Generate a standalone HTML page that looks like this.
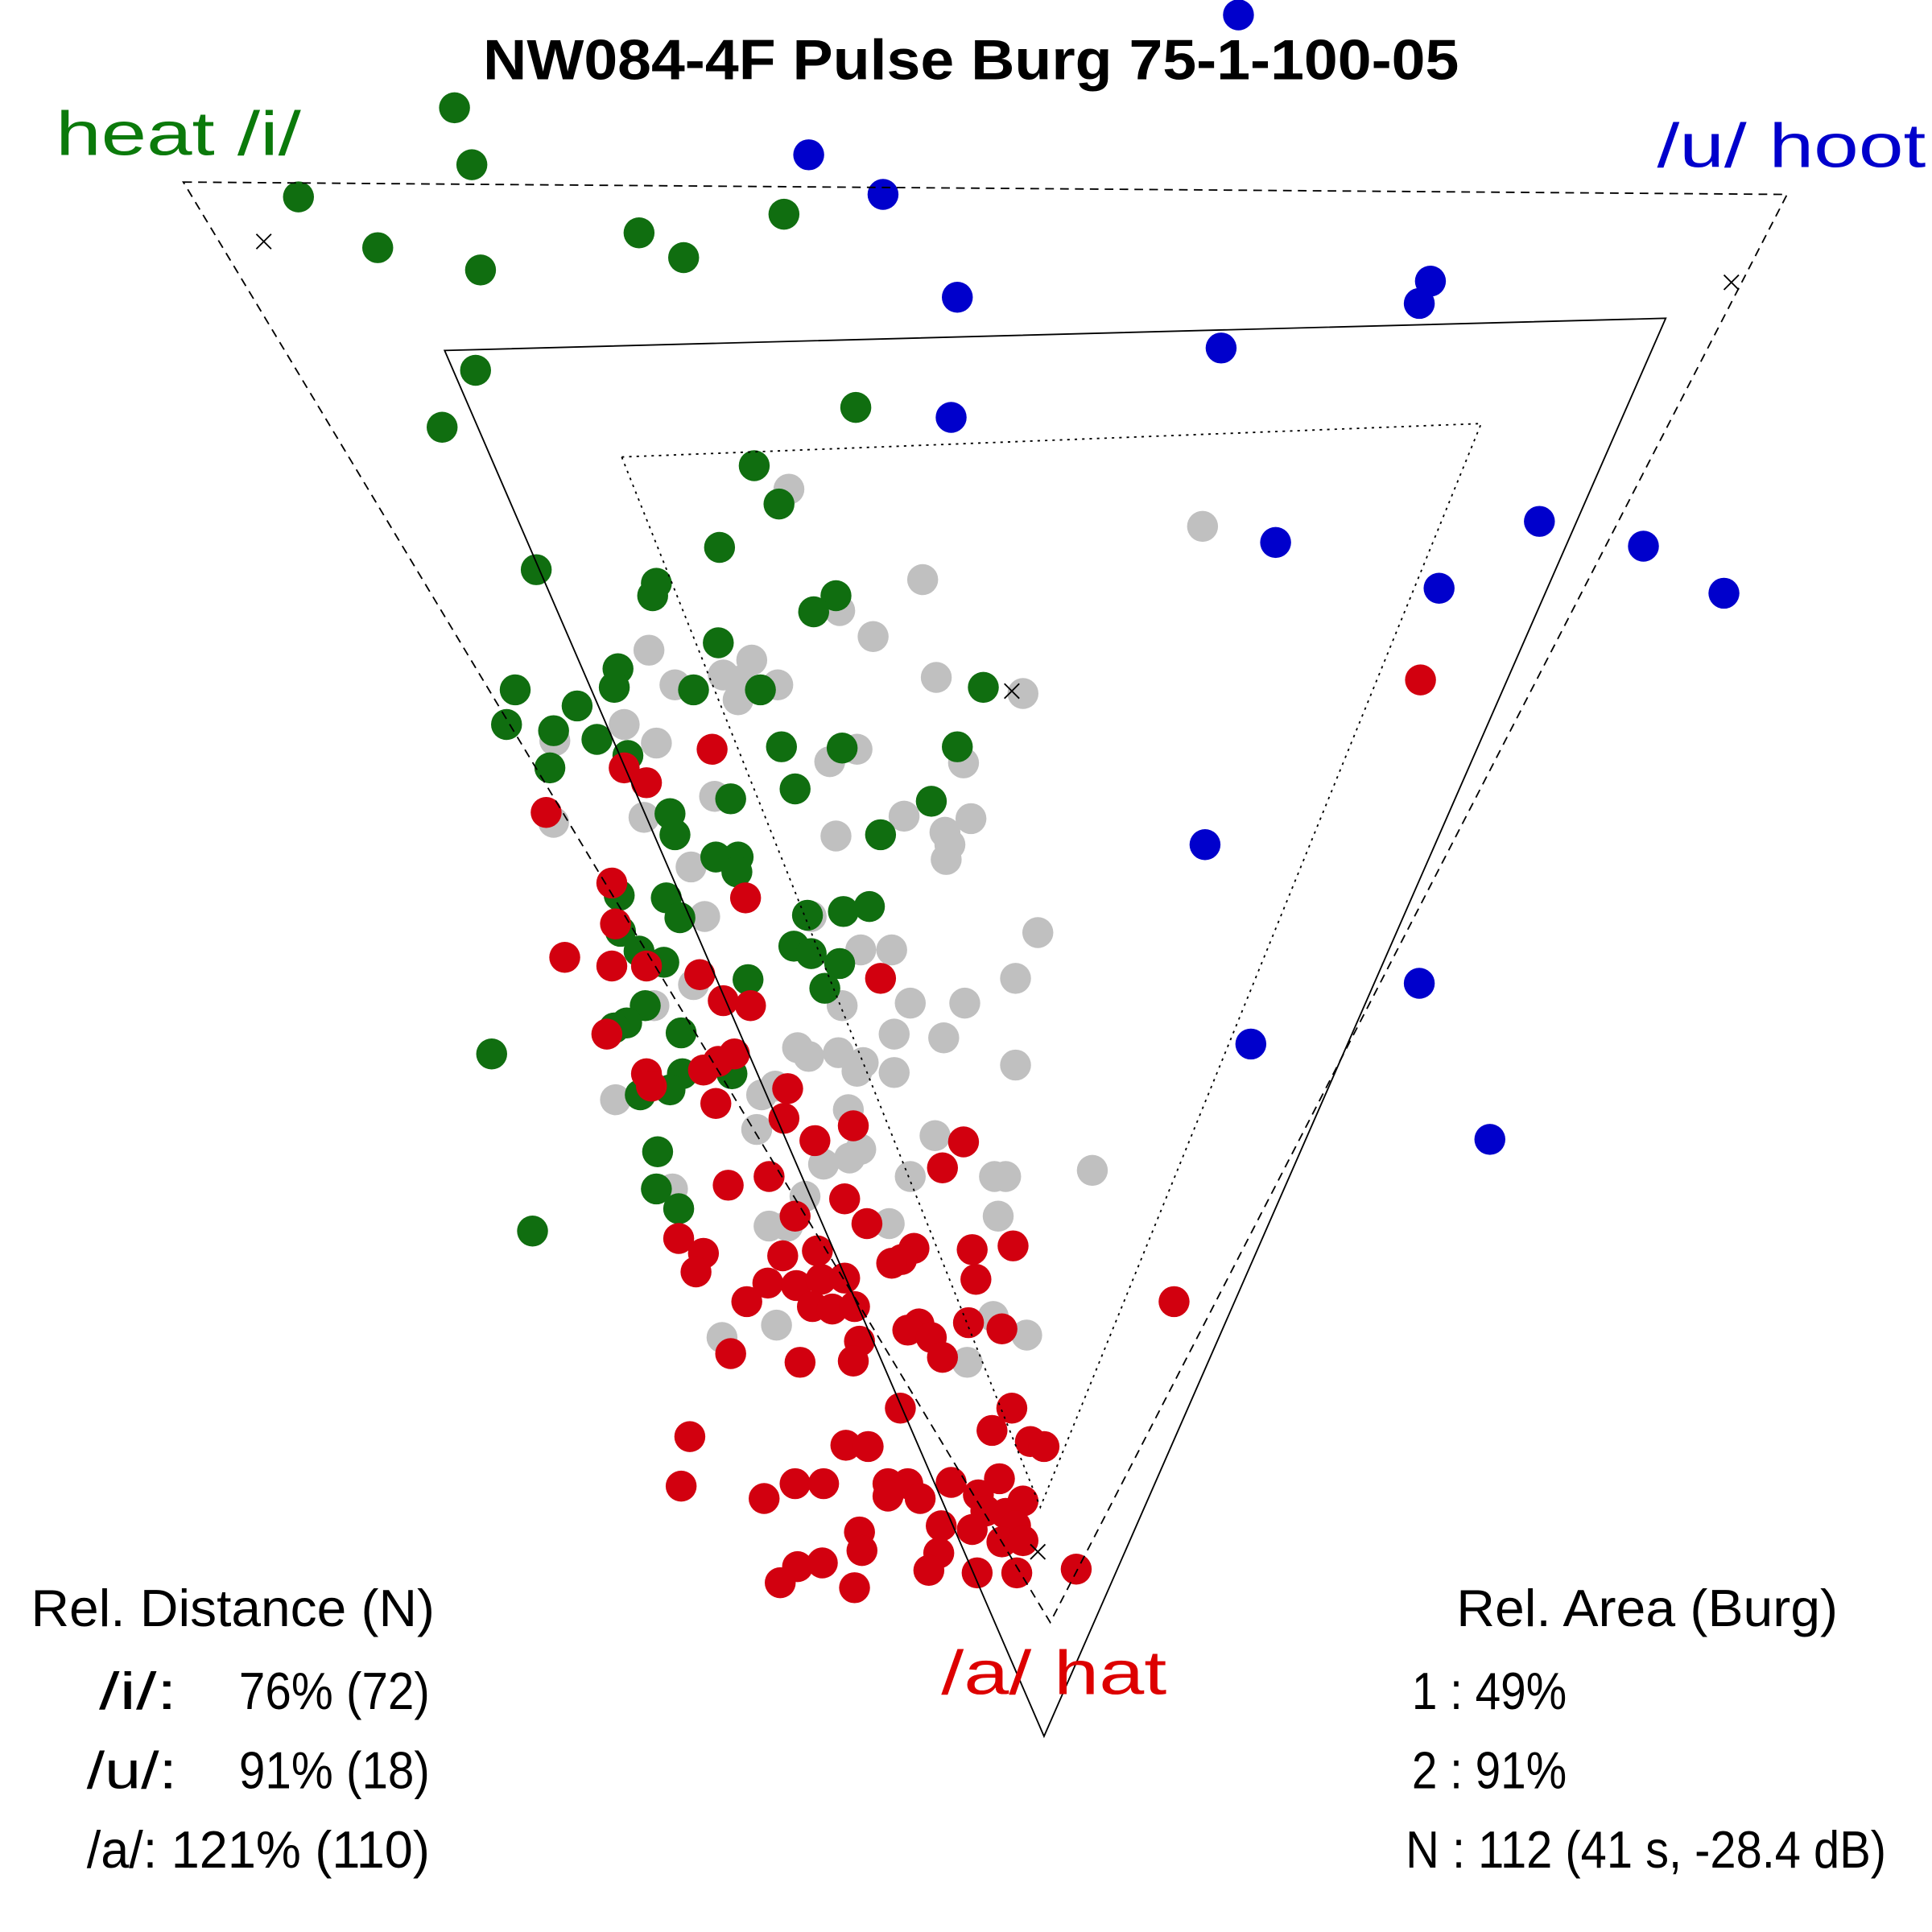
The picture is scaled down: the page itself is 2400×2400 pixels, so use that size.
<!DOCTYPE html>
<html><head><meta charset="utf-8"><style>
html,body{margin:0;padding:0;background:#fff;}
svg{display:block;}
text{font-family:"Liberation Sans",sans-serif;}
</style></head><body>
<svg width="2400" height="2400" viewBox="0 0 1560 1560" xmlns="http://www.w3.org/2000/svg">
<rect width="1560" height="1560" fill="#fff"/>
<g fill="#c0c0c0">
<circle cx="637" cy="395" r="12.5"/><circle cx="971" cy="425" r="12.5"/><circle cx="745" cy="468" r="12.5"/><circle cx="678" cy="493" r="12.5"/><circle cx="705" cy="514" r="12.5"/><circle cx="524" cy="525" r="12.5"/><circle cx="607" cy="533" r="12.5"/><circle cx="584" cy="545" r="12.5"/><circle cx="628" cy="553" r="12.5"/><circle cx="545" cy="553" r="12.5"/><circle cx="597" cy="550" r="12.5"/><circle cx="596" cy="565" r="12.5"/><circle cx="756" cy="547" r="12.5"/><circle cx="826" cy="560" r="12.5"/><circle cx="504" cy="585" r="12.5"/><circle cx="448" cy="598" r="12.5"/><circle cx="530" cy="600" r="12.5"/><circle cx="692" cy="605" r="12.5"/><circle cx="670" cy="615" r="12.5"/><circle cx="778" cy="616" r="12.5"/><circle cx="577" cy="643" r="12.5"/><circle cx="520" cy="660" r="12.5"/><circle cx="447" cy="664" r="12.5"/><circle cx="730" cy="659" r="12.5"/><circle cx="784" cy="661" r="12.5"/><circle cx="763" cy="672" r="12.5"/><circle cx="675" cy="675" r="12.5"/><circle cx="767" cy="682" r="12.5"/><circle cx="764" cy="694" r="12.5"/><circle cx="558" cy="700" r="12.5"/><circle cx="569" cy="740" r="12.5"/><circle cx="655" cy="740" r="12.5"/><circle cx="695" cy="767" r="12.5"/><circle cx="720" cy="767" r="12.5"/><circle cx="820" cy="790" r="12.5"/><circle cx="560" cy="795" r="12.5"/><circle cx="735" cy="810" r="12.5"/><circle cx="779" cy="810" r="12.5"/><circle cx="680" cy="812" r="12.5"/><circle cx="528" cy="812" r="12.5"/><circle cx="722" cy="835" r="12.5"/><circle cx="762" cy="838" r="12.5"/><circle cx="838" cy="753" r="12.5"/><circle cx="644" cy="846" r="12.5"/><circle cx="653" cy="853" r="12.5"/><circle cx="677" cy="850" r="12.5"/><circle cx="697" cy="858" r="12.5"/><circle cx="692" cy="865" r="12.5"/><circle cx="722" cy="866" r="12.5"/><circle cx="820" cy="860" r="12.5"/><circle cx="626" cy="877" r="12.5"/><circle cx="615" cy="884" r="12.5"/><circle cx="497" cy="888" r="12.5"/><circle cx="685" cy="896" r="12.5"/><circle cx="611" cy="912" r="12.5"/><circle cx="755" cy="917" r="12.5"/><circle cx="695" cy="928" r="12.5"/><circle cx="686" cy="935" r="12.5"/><circle cx="665" cy="940" r="12.5"/><circle cx="735" cy="950" r="12.5"/><circle cx="803" cy="950" r="12.5"/><circle cx="812" cy="950" r="12.5"/><circle cx="882" cy="945" r="12.5"/><circle cx="650" cy="966" r="12.5"/><circle cx="543" cy="960" r="12.5"/><circle cx="806" cy="982" r="12.5"/><circle cx="718" cy="988" r="12.5"/><circle cx="621" cy="990" r="12.5"/><circle cx="636" cy="990" r="12.5"/><circle cx="627" cy="1070" r="12.5"/><circle cx="583" cy="1080" r="12.5"/><circle cx="802" cy="1063" r="12.5"/><circle cx="829" cy="1078" r="12.5"/><circle cx="781" cy="1100" r="12.5"/>
</g>
<g fill="#106e10">
<circle cx="367" cy="87" r="12.5"/><circle cx="381" cy="133" r="12.5"/><circle cx="241" cy="159" r="12.5"/><circle cx="305" cy="200" r="12.5"/><circle cx="388" cy="218" r="12.5"/><circle cx="516" cy="188" r="12.5"/><circle cx="552" cy="208" r="12.5"/><circle cx="633" cy="173" r="12.5"/><circle cx="384" cy="299" r="12.5"/><circle cx="357" cy="345" r="12.5"/><circle cx="691" cy="329" r="12.5"/><circle cx="609" cy="376" r="12.5"/><circle cx="629" cy="407" r="12.5"/><circle cx="581" cy="442" r="12.5"/><circle cx="433" cy="460" r="12.5"/><circle cx="530" cy="471" r="12.5"/><circle cx="527" cy="481" r="12.5"/><circle cx="675" cy="481" r="12.5"/><circle cx="657" cy="494" r="12.5"/><circle cx="580" cy="519" r="12.5"/><circle cx="499" cy="540" r="12.5"/><circle cx="496" cy="555" r="12.5"/><circle cx="560" cy="557" r="12.5"/><circle cx="614" cy="557" r="12.5"/><circle cx="416" cy="557" r="12.5"/><circle cx="794" cy="555" r="12.5"/><circle cx="466" cy="570" r="12.5"/><circle cx="409" cy="585" r="12.5"/><circle cx="447" cy="590" r="12.5"/><circle cx="482" cy="597" r="12.5"/><circle cx="631" cy="603" r="12.5"/><circle cx="680" cy="604" r="12.5"/><circle cx="773" cy="603" r="12.5"/><circle cx="507" cy="610" r="12.5"/><circle cx="444" cy="620" r="12.5"/><circle cx="642" cy="637" r="12.5"/><circle cx="590" cy="645" r="12.5"/><circle cx="752" cy="647" r="12.5"/><circle cx="541" cy="657" r="12.5"/><circle cx="545" cy="674" r="12.5"/><circle cx="711" cy="674" r="12.5"/><circle cx="578" cy="692" r="12.5"/><circle cx="596" cy="692" r="12.5"/><circle cx="595" cy="704" r="12.5"/><circle cx="500" cy="723" r="12.5"/><circle cx="538" cy="725" r="12.5"/><circle cx="549" cy="741" r="12.5"/><circle cx="652" cy="739" r="12.5"/><circle cx="681" cy="736" r="12.5"/><circle cx="702" cy="732" r="12.5"/><circle cx="501" cy="752" r="12.5"/><circle cx="516" cy="768" r="12.5"/><circle cx="536" cy="777" r="12.5"/><circle cx="641" cy="764" r="12.5"/><circle cx="655" cy="770" r="12.5"/><circle cx="678" cy="778" r="12.5"/><circle cx="604" cy="791" r="12.5"/><circle cx="666" cy="798" r="12.5"/><circle cx="521" cy="812" r="12.5"/><circle cx="506" cy="826" r="12.5"/><circle cx="496" cy="830" r="12.5"/><circle cx="550" cy="834" r="12.5"/><circle cx="397" cy="851" r="12.5"/><circle cx="551" cy="867" r="12.5"/><circle cx="541" cy="880" r="12.5"/><circle cx="517" cy="884" r="12.5"/><circle cx="591" cy="867" r="12.5"/><circle cx="531" cy="930" r="12.5"/><circle cx="530" cy="960" r="12.5"/><circle cx="548" cy="976" r="12.5"/><circle cx="430" cy="994" r="12.5"/>
</g>
<g fill="#d2000f">
<circle cx="1147" cy="549" r="12.5"/><circle cx="575" cy="605" r="12.5"/><circle cx="504" cy="620" r="12.5"/><circle cx="522" cy="632" r="12.5"/><circle cx="441" cy="656" r="12.5"/><circle cx="494" cy="713" r="12.5"/><circle cx="602" cy="725" r="12.5"/><circle cx="497" cy="746" r="12.5"/><circle cx="456" cy="773" r="12.5"/><circle cx="494" cy="780" r="12.5"/><circle cx="522" cy="780" r="12.5"/><circle cx="565" cy="787" r="12.5"/><circle cx="711" cy="790" r="12.5"/><circle cx="584" cy="808" r="12.5"/><circle cx="606" cy="812" r="12.5"/><circle cx="490" cy="835" r="12.5"/><circle cx="593" cy="851" r="12.5"/><circle cx="580" cy="857" r="12.5"/><circle cx="568" cy="864" r="12.5"/><circle cx="522" cy="867" r="12.5"/><circle cx="526" cy="877" r="12.5"/><circle cx="578" cy="891" r="12.5"/><circle cx="636" cy="879" r="12.5"/><circle cx="633" cy="903" r="12.5"/><circle cx="689" cy="909" r="12.5"/><circle cx="658" cy="921" r="12.5"/><circle cx="778" cy="922" r="12.5"/><circle cx="761" cy="943" r="12.5"/><circle cx="621" cy="950" r="12.5"/><circle cx="588" cy="957" r="12.5"/><circle cx="682" cy="968" r="12.5"/><circle cx="642" cy="982" r="12.5"/><circle cx="700" cy="988" r="12.5"/><circle cx="548" cy="1000" r="12.5"/><circle cx="568" cy="1012" r="12.5"/><circle cx="818" cy="1006" r="12.5"/><circle cx="785" cy="1009" r="12.5"/><circle cx="738" cy="1008" r="12.5"/><circle cx="728" cy="1017" r="12.5"/><circle cx="720" cy="1020" r="12.5"/><circle cx="632" cy="1014" r="12.5"/><circle cx="660" cy="1010" r="12.5"/><circle cx="562" cy="1027" r="12.5"/><circle cx="620" cy="1036" r="12.5"/><circle cx="643" cy="1038" r="12.5"/><circle cx="663" cy="1033" r="12.5"/><circle cx="682" cy="1032" r="12.5"/><circle cx="788" cy="1033" r="12.5"/><circle cx="603" cy="1051" r="12.5"/><circle cx="656" cy="1055" r="12.5"/><circle cx="672" cy="1057" r="12.5"/><circle cx="690" cy="1055" r="12.5"/><circle cx="948" cy="1051" r="12.5"/><circle cx="742" cy="1069" r="12.5"/><circle cx="733" cy="1074" r="12.5"/><circle cx="782" cy="1068" r="12.5"/><circle cx="809" cy="1073" r="12.5"/><circle cx="752" cy="1080" r="12.5"/><circle cx="694" cy="1083" r="12.5"/><circle cx="590" cy="1093" r="12.5"/><circle cx="646" cy="1100" r="12.5"/><circle cx="689" cy="1099" r="12.5"/><circle cx="761" cy="1096" r="12.5"/><circle cx="727" cy="1137" r="12.5"/><circle cx="817" cy="1137" r="12.5"/><circle cx="801" cy="1155" r="12.5"/><circle cx="557" cy="1160" r="12.5"/><circle cx="683" cy="1167" r="12.5"/><circle cx="701" cy="1168" r="12.5"/><circle cx="832" cy="1164" r="12.5"/><circle cx="843" cy="1168" r="12.5"/><circle cx="550" cy="1200" r="12.5"/><circle cx="642" cy="1198" r="12.5"/><circle cx="665" cy="1198" r="12.5"/><circle cx="717" cy="1198" r="12.5"/><circle cx="733" cy="1198" r="12.5"/><circle cx="717" cy="1208" r="12.5"/><circle cx="743" cy="1210" r="12.5"/><circle cx="768" cy="1197" r="12.5"/><circle cx="807" cy="1194" r="12.5"/><circle cx="790" cy="1207" r="12.5"/><circle cx="617" cy="1210" r="12.5"/><circle cx="826" cy="1212" r="12.5"/><circle cx="812" cy="1222" r="12.5"/><circle cx="796" cy="1220" r="12.5"/><circle cx="820" cy="1232" r="12.5"/><circle cx="760" cy="1232" r="12.5"/><circle cx="785" cy="1235" r="12.5"/><circle cx="809" cy="1245" r="12.5"/><circle cx="826" cy="1244" r="12.5"/><circle cx="694" cy="1237" r="12.5"/><circle cx="696" cy="1252" r="12.5"/><circle cx="758" cy="1254" r="12.5"/><circle cx="750" cy="1268" r="12.5"/><circle cx="644" cy="1265" r="12.5"/><circle cx="664" cy="1262" r="12.5"/><circle cx="630" cy="1278" r="12.5"/><circle cx="690" cy="1282" r="12.5"/><circle cx="789" cy="1270" r="12.5"/><circle cx="821" cy="1270" r="12.5"/><circle cx="869" cy="1267" r="12.5"/>
</g>
<g fill="#0000cc">
<circle cx="1000" cy="12" r="12.5"/><circle cx="653" cy="125" r="12.5"/><circle cx="713" cy="157" r="12.5"/><circle cx="773" cy="240" r="12.5"/><circle cx="1155" cy="227" r="12.5"/><circle cx="1146" cy="245" r="12.5"/><circle cx="986" cy="281" r="12.5"/><circle cx="768" cy="337" r="12.5"/><circle cx="1030" cy="438" r="12.5"/><circle cx="1243" cy="421" r="12.5"/><circle cx="1327" cy="441" r="12.5"/><circle cx="1162" cy="475" r="12.5"/><circle cx="1392" cy="479" r="12.5"/><circle cx="973" cy="682" r="12.5"/><circle cx="1146" cy="794" r="12.5"/><circle cx="1010" cy="843" r="12.5"/><circle cx="1203" cy="920" r="12.5"/>
</g>
<g fill="none" stroke="#000" stroke-width="1.2">
<polygon points="148,147 1443,157 848,1310" stroke-dasharray="7,5"/>
<polygon points="359,283 1345,257 843,1402"/>
<polygon points="502,369 1196,342 840,1217" stroke-dasharray="2,4"/>
<path d="M207,189 l12,12 M219,189 l-12,12 M1392,222 l12,12 M1404,222 l-12,12 M811,552 l12,12 M823,552 l-12,12 M832,1247 l12,12 M844,1247 l-12,12"/>
</g>
<text x="390" y="64" font-size="46" font-weight="bold" textLength="788" lengthAdjust="spacingAndGlyphs">NW084-4F Pulse Burg 75-1-100-05</text>
<text x="45" y="125" font-size="50" fill="#0b7a0b" textLength="198" lengthAdjust="spacingAndGlyphs">heat  /i/</text>
<text x="1338" y="135" font-size="50" fill="#0000cc" textLength="217" lengthAdjust="spacingAndGlyphs">/u/  hoot</text>
<text x="760" y="1368" font-size="50" fill="#dd0000" textLength="182" lengthAdjust="spacingAndGlyphs">/a/  hat</text>
<g font-size="42">
<text x="25" y="1313" textLength="326" lengthAdjust="spacingAndGlyphs">Rel. Distance (N)</text>
<text x="80" y="1380" textLength="63" lengthAdjust="spacingAndGlyphs">/i/:</text><text x="193" y="1380" textLength="154" lengthAdjust="spacingAndGlyphs">76% (72)</text>
<text x="70" y="1444" textLength="73" lengthAdjust="spacingAndGlyphs">/u/:</text><text x="193" y="1444" textLength="154" lengthAdjust="spacingAndGlyphs">91% (18)</text>
<text x="70" y="1508" textLength="277" lengthAdjust="spacingAndGlyphs">/a/: 121% (110)</text>
<text x="1176" y="1313" textLength="308" lengthAdjust="spacingAndGlyphs">Rel. Area (Burg)</text>
<text x="1140" y="1380" textLength="125" lengthAdjust="spacingAndGlyphs">1 : 49%</text>
<text x="1140" y="1444" textLength="125" lengthAdjust="spacingAndGlyphs">2 : 91%</text>
<text x="1135" y="1508" textLength="388" lengthAdjust="spacingAndGlyphs">N : 112 (41 s, -28.4 dB)</text>
</g>
</svg>
</body></html>
